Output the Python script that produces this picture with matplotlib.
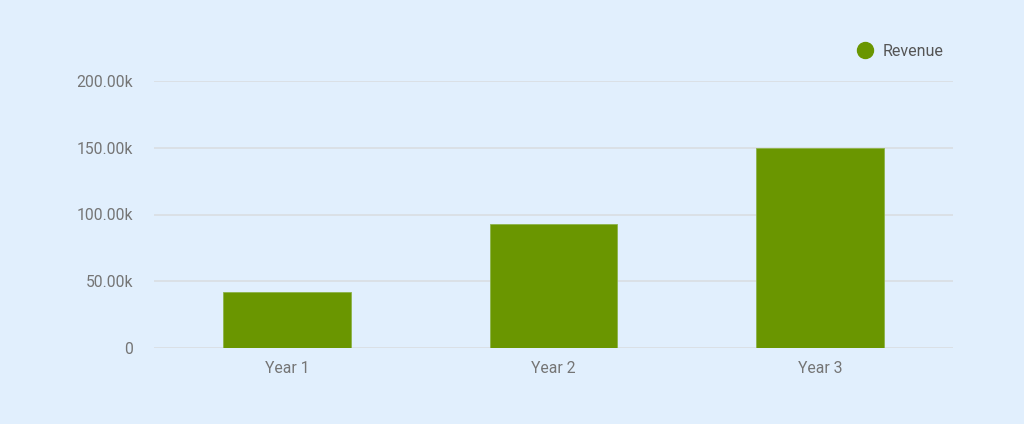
import matplotlib.pyplot as plt
from matplotlib.lines import Line2D
from matplotlib.ticker import FuncFormatter

categories = ["Year 1", "Year 2", "Year 3"]
revenue = [42000, 93000, 150000]
y_ticks = [0, 50000, 100000, 150000, 200000]

bg = "#e1effd"
bar_color = "#6a9600"
grid_color = "#d9dde2"
tick_color = "#757575"

plt.rcParams["font.family"] = ["Roboto", "DejaVu Sans"]

fig = plt.figure(figsize=(10.24, 4.24), dpi=100, facecolor=bg)
ax = fig.add_axes([154 / 1024, 1 - 348 / 424, (953 - 154) / 1024, (348 - 81) / 424])
ax.set_facecolor(bg)

x = range(len(categories))
ax.bar(x, revenue, width=0.48, color=bar_color, edgecolor="#8db34a", linewidth=0.6, zorder=3)

ax.set_xlim(-0.5, len(categories) - 0.5)
ax.set_ylim(0, 200000)
ax.set_yticks(y_ticks)
ax.yaxis.set_major_formatter(FuncFormatter(lambda v, p: "0" if v == 0 else f"{v / 1000:.2f}k"))
ax.set_xticks(list(x))
ax.set_xticklabels(categories)

ax.grid(axis="y", color=grid_color, linewidth=1.2, zorder=0)
ax.tick_params(axis="both", length=0, labelsize=11.3, colors=tick_color)
ax.tick_params(axis="y", pad=15)
ax.tick_params(axis="x", pad=9.5)
for s in ax.spines.values():
    s.set_visible(False)

handle = Line2D([], [], marker="o", linestyle="none", markersize=11.5,
                markerfacecolor=bar_color, markeredgecolor=bar_color)
fig.legend([handle], ["Revenue"], loc="center left", bbox_to_anchor=(857 / 1024, 1 - 51.5 / 424),
           frameon=False, fontsize=11.5, labelcolor="#555555", handletextpad=0.6,
           handlelength=1.0, borderpad=0, borderaxespad=0)

fig.savefig("out.png", dpi=100, facecolor=bg)
